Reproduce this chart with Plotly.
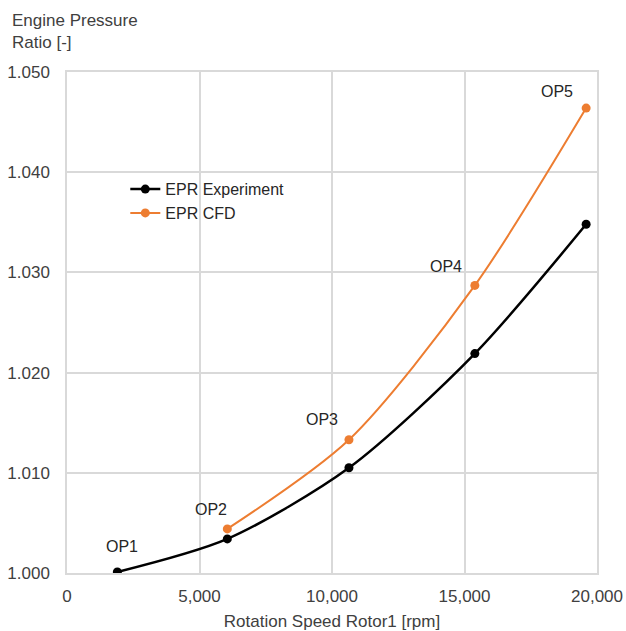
import plotly.graph_objects as go

op_labels = ["OP1", "OP2", "OP3", "OP4", "OP5"]
exp_rpm = [1900, 6050, 10640, 15390, 19590]
exp_epr = [1.0001, 1.0034, 1.0105, 1.0219, 1.0348]
cfd_rpm = [6050, 10640, 15390, 19590]
cfd_epr = [1.0044, 1.0133, 1.0287, 1.0464]

FONT = "Liberation Sans, Arial, sans-serif"
ORANGE = "#ED7D31"

fig = go.Figure()
fig.add_trace(go.Scatter(x=exp_rpm, y=exp_epr, mode="lines+markers", name="EPR Experiment",
                         line=dict(color="black", width=2.5, shape="spline", smoothing=0.8),
                         marker=dict(color="black", size=9)))
fig.add_trace(go.Scatter(x=cfd_rpm, y=cfd_epr, mode="lines+markers", name="EPR CFD",
                         line=dict(color=ORANGE, width=2, shape="spline", smoothing=0.8),
                         marker=dict(color=ORANGE, size=9)))

# point labels: OP1 on experiment point, others on CFD points
label_pts = [(exp_rpm[0], exp_epr[0])] + list(zip(cfd_rpm, cfd_epr))
shifts = [(5, 26), (-16, 19), (-27, 20), (-29, 19), (-29, 17)]
for lab, (x, y), (dx, dy) in zip(op_labels, label_pts, shifts):
    fig.add_annotation(x=x, y=y, text=lab, showarrow=False, xshift=dx, yshift=dy,
                       font=dict(family=FONT, size=16, color="#262626"))

fig.add_annotation(xref="paper", yref="paper", x=0, y=1, xanchor="left", yanchor="bottom",
                   xshift=-57, yshift=18, align="left", showarrow=False,
                   text="Engine Pressure<br>Ratio [-]",
                   font=dict(family=FONT, size=17, color="#404040"))

fig.update_layout(
    width=626, height=631,
    margin=dict(l=67, r=29, t=72, b=58),
    paper_bgcolor="white", plot_bgcolor="white",
    font=dict(family=FONT, size=17, color="#404040"),
    showlegend=True,
    legend=dict(x=0.11, y=0.80, xanchor="left", yanchor="top", bgcolor="rgba(0,0,0,0)",
                font=dict(family=FONT, size=16, color="#262626"), tracegroupgap=0),
)
fig.update_xaxes(range=[0, 20000], tickvals=[0, 5000, 10000, 15000, 20000], tickformat=",",
                 showgrid=True, gridcolor="#D9D9D9", gridwidth=1.5, zeroline=False,
                 showline=True, linecolor="#D9D9D9", linewidth=1.5, mirror=True,
                 ticks="", ticklabelstandoff=7, automargin=False,
                 tickfont=dict(size=17, color="#404040"),
                 title=dict(text="Rotation Speed Rotor1 [rpm]", font=dict(size=17, color="#404040"), standoff=10))
fig.update_yaxes(range=[1.0, 1.05], tickvals=[1.0, 1.01, 1.02, 1.03, 1.04, 1.05], tickformat=".3f",
                 showgrid=True, gridcolor="#D9D9D9", gridwidth=1.5, zeroline=False,
                 showline=True, linecolor="#D9D9D9", linewidth=1.5, mirror=True,
                 ticks="", ticklabelstandoff=12, automargin=False,
                 tickfont=dict(size=17, color="#404040"))

fig.write_html("out.html")
